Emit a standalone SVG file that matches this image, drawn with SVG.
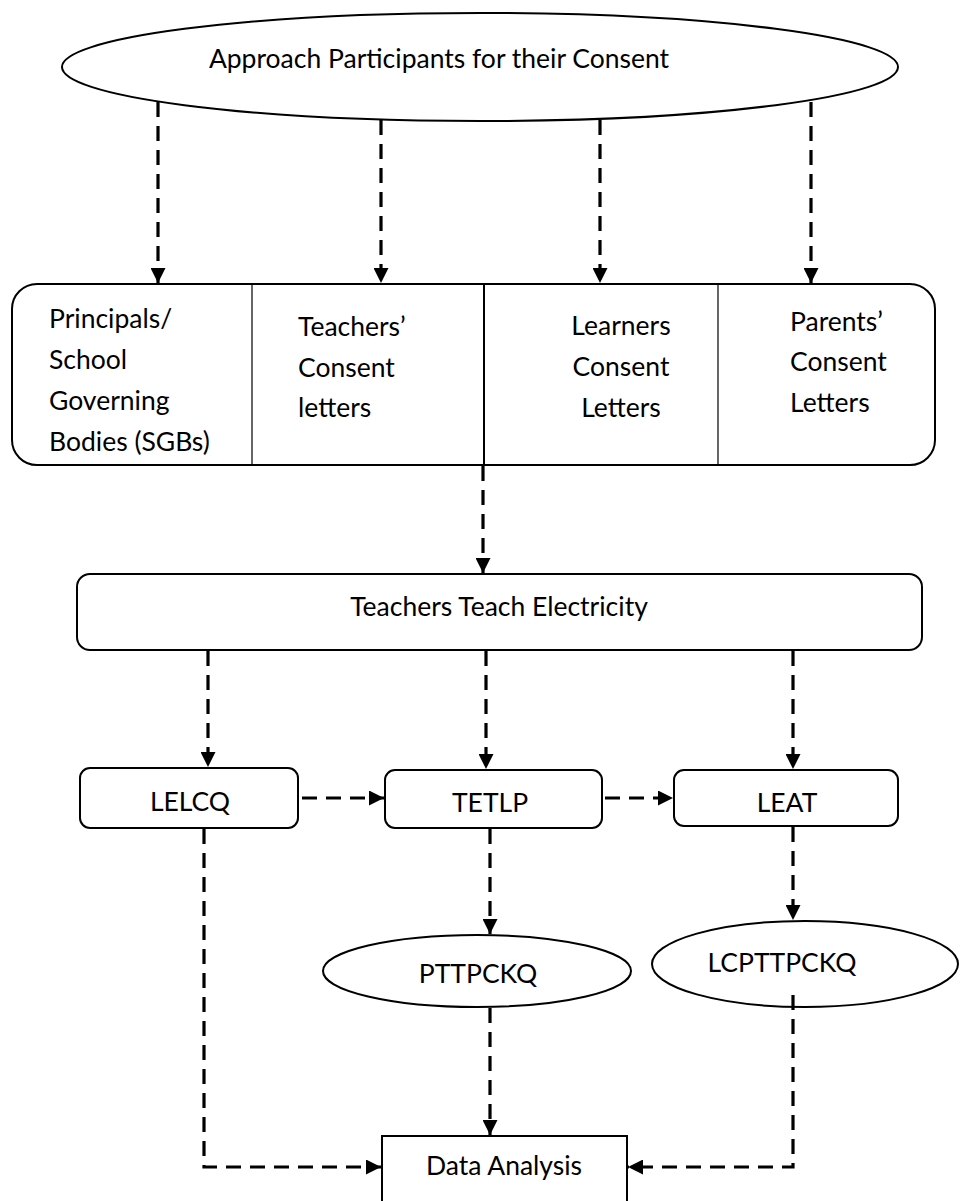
<svg xmlns="http://www.w3.org/2000/svg" width="961" height="1201" viewBox="0 0 961 1201">
<style>
  .bg{fill:#ffffff}
  .shape{fill:#ffffff;stroke:#000000;stroke-width:2}
  .div{stroke:#000000;stroke-width:1.2}
  .divb{stroke:#000000;stroke-width:2}
  .lbl{font-family:Lato,"Liberation Sans",sans-serif;font-size:26.5px;fill:#000000}
  .mid{text-anchor:middle}
  .conn{fill:none;stroke:#000000;stroke-width:3.2;stroke-dasharray:15 9}
</style>
<defs>
  <marker id="arr" markerUnits="userSpaceOnUse" markerWidth="15" markerHeight="15" refX="15" refY="7.5" orient="auto">
    <path d="M0,0 L15,7.5 L0,15 Z" fill="#000000"/>
  </marker>
</defs>
<rect class="bg" x="0" y="0" width="961" height="1201"/>

<g id="node-approach">
  <ellipse class="shape" cx="480" cy="67" rx="418" ry="54"/>
  <text class="lbl mid" x="439" y="68">Approach Participants for their Consent</text>
</g>

<g id="node-consent">
  <rect class="shape" x="12" y="284" width="923" height="181" rx="25" ry="25"/>
  <line class="div" x1="252" y1="284" x2="252" y2="465"/>
  <line class="divb" x1="484" y1="284" x2="484" y2="465"/>
  <line class="div" x1="718" y1="284" x2="718" y2="465"/>
  <text class="lbl" x="49" y="328">Principals/</text>
  <text class="lbl" x="49" y="369">School</text>
  <text class="lbl" x="49" y="410">Governing</text>
  <text class="lbl" x="49" y="451">Bodies (SGBs)</text>
  <text class="lbl" x="298" y="336">Teachers’</text>
  <text class="lbl" x="298" y="377">Consent</text>
  <text class="lbl" x="298" y="417">letters</text>
  <text class="lbl mid" x="621" y="335">Learners</text>
  <text class="lbl mid" x="621" y="376">Consent</text>
  <text class="lbl mid" x="621" y="417">Letters</text>
  <text class="lbl" x="790" y="331">Parents’</text>
  <text class="lbl" x="790" y="371">Consent</text>
  <text class="lbl" x="790" y="412">Letters</text>
</g>

<g id="node-teach">
  <rect class="shape" x="77" y="574" width="845" height="76" rx="13" ry="13"/>
  <text class="lbl mid" x="499" y="616">Teachers Teach Electricity</text>
</g>

<g id="node-lelcq">
  <rect class="shape" x="80" y="768" width="218" height="60" rx="10" ry="10"/>
  <text class="lbl mid" x="190" y="811">LELCQ</text>
</g>

<g id="node-tetlp">
  <rect class="shape" x="385" y="770" width="217" height="58" rx="10" ry="10"/>
  <text class="lbl mid" x="490" y="812">TETLP</text>
</g>

<g id="node-leat">
  <rect class="shape" x="674" y="770" width="224" height="56" rx="10" ry="10"/>
  <text class="lbl mid" x="787" y="812">LEAT</text>
</g>

<g id="node-pttpckq">
  <ellipse class="shape" cx="477" cy="971" rx="154" ry="36"/>
  <text class="lbl mid" x="478" y="983">PTTPCKQ</text>
</g>

<g id="node-lcpttpckq">
  <ellipse class="shape" cx="805" cy="964" rx="153" ry="43"/>
  <text class="lbl mid" x="782" y="972">LCPTTPCKQ</text>
</g>

<g id="node-data">
  <rect class="shape" x="382" y="1136" width="245" height="100"/>
  <text class="lbl mid" x="504" y="1175">Data Analysis</text>
</g>

<g id="connectors">
  <path class="conn" d="M158,102 L158,283" marker-end="url(#arr)"/>
  <path class="conn" d="M381,120 L381,283" marker-end="url(#arr)"/>
  <path class="conn" d="M600,120 L600,283" marker-end="url(#arr)"/>
  <path class="conn" d="M811,102 L811,283" marker-end="url(#arr)"/>
  <path class="conn" d="M483,466 L483,573" marker-end="url(#arr)"/>
  <path class="conn" d="M208,651 L208,767" marker-end="url(#arr)"/>
  <path class="conn" d="M486,651 L486,769" marker-end="url(#arr)"/>
  <path class="conn" d="M793,651 L793,769" marker-end="url(#arr)"/>
  <path class="conn" d="M302,798 L384,798" marker-end="url(#arr)"/>
  <path class="conn" d="M605,798 L673,798" marker-end="url(#arr)"/>
  <path class="conn" d="M490,829 L490,934" marker-end="url(#arr)"/>
  <path class="conn" d="M793,827 L793,920" marker-end="url(#arr)"/>
  <path class="conn" d="M490,1008 L490,1135" marker-end="url(#arr)"/>
  <path class="conn" d="M204,829 L204,1167 L381,1167" marker-end="url(#arr)"/>
  <path class="conn" d="M793,995 L793,1167 L628,1167" marker-end="url(#arr)"/>
</g>
</svg>
